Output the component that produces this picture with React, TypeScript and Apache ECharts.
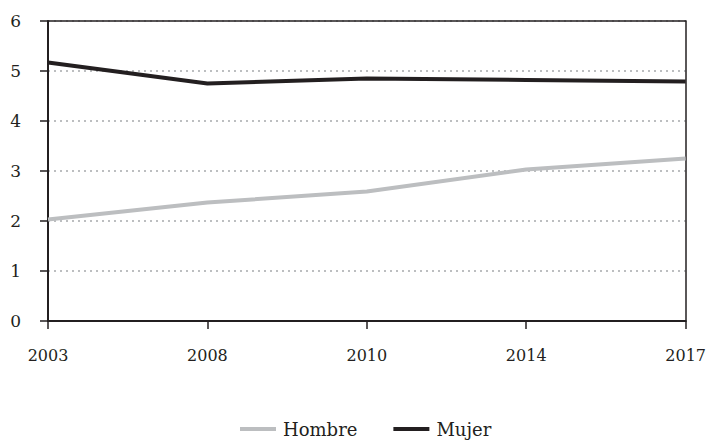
import React, { useEffect, useRef } from "react";
import * as echarts from "echarts";

const years = ["2003", "2008", "2010", "2014", "2017"];
const hombre = [2.03, 2.37, 2.59, 3.03, 3.25];
const mujer = [5.17, 4.75, 4.85, 4.82, 4.79];
const yTicks = { min: 0, max: 6, interval: 1 };

const FONT = "DejaVu Serif";
const INK = "#231f20";

export default function App() {
  const ref = useRef<HTMLDivElement>(null);
  useEffect(() => {
    if (!ref.current) return;
    const chart = echarts.init(ref.current, null, { renderer: "svg" });
    chart.setOption({
      animation: false,
      backgroundColor: "#ffffff",
      textStyle: { fontFamily: FONT, color: INK },
      grid: { left: 48, right: 22, top: 21, bottom: 119 },
      legend: {
        top: 420,
        left: 240,
        padding: 0,
        itemWidth: 36,
        itemHeight: 4,
        itemGap: 36,
        icon: "rect",
        textStyle: { fontFamily: FONT, fontSize: 18, lineHeight: 18, color: INK, padding: [0, 0, 0, 2] },
        data: ["Hombre", "Mujer"],
      },
      xAxis: [
        {
          type: "category",
          data: years,
          boundaryGap: false,
          axisLine: { lineStyle: { color: INK, width: 2 } },
          axisTick: { show: true, length: 8, lineStyle: { color: INK, width: 1.5 } },
          axisLabel: { fontFamily: FONT, fontSize: 16, color: INK, margin: 26 },
          splitLine: { show: false },
        },
        {
          type: "category",
          data: years,
          boundaryGap: false,
          position: "top",
          axisLine: { show: true, onZero: false, lineStyle: { color: INK, width: 1.5 } },
          axisTick: { show: false },
          axisLabel: { show: false },
          splitLine: { show: false },
        },
      ],
      yAxis: [
        {
          type: "value",
          min: yTicks.min,
          max: yTicks.max,
          interval: yTicks.interval,
          axisLine: { show: true, lineStyle: { color: INK, width: 2 } },
          axisTick: { show: true, length: 8, lineStyle: { color: INK, width: 1.5 } },
          axisLabel: { fontFamily: FONT, fontSize: 17, color: INK, margin: 27 },
          splitLine: { show: true, lineStyle: { color: "#a7a9ac", width: 1.5, type: [2, 4] } },
        },
        {
          type: "value",
          min: yTicks.min,
          max: yTicks.max,
          interval: yTicks.interval,
          position: "right",
          axisLine: { show: true, onZero: false, lineStyle: { color: INK, width: 1.5 } },
          axisTick: { show: false },
          axisLabel: { show: false },
          splitLine: { show: false },
        },
      ],
      series: [
        {
          name: "Hombre",
          type: "line",
          data: hombre,
          symbol: "none",
          lineStyle: { color: "#bcbec0", width: 4 },
          itemStyle: { color: "#bcbec0" },
        },
        {
          name: "Mujer",
          type: "line",
          data: mujer,
          symbol: "none",
          lineStyle: { color: INK, width: 4 },
          itemStyle: { color: INK },
        },
      ],
    });
    return () => chart.dispose();
  }, []);
  return (
    <div
      ref={ref}
      style={{ position: "fixed", left: 0, top: 0, width: 709, height: 440, background: "#fff" }}
    />
  );
}
